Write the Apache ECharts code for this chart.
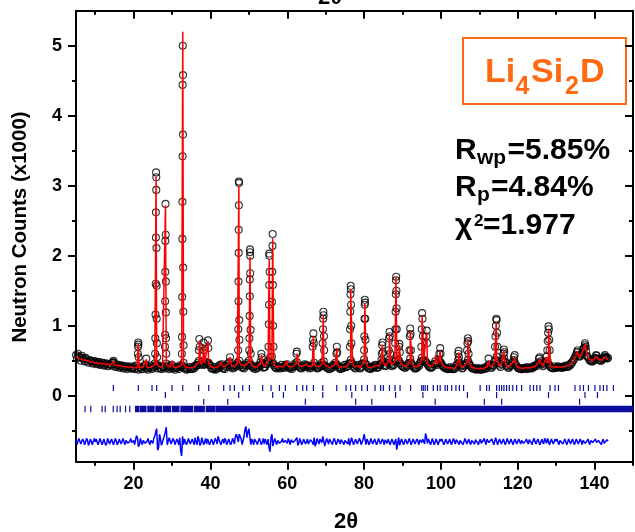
<!DOCTYPE html>
<html>
<head>
<meta charset="utf-8">
<script src="https://cdn.jsdelivr.net/npm/echarts@6/dist/echarts.min.js"></script>
<style>
  html, body { margin: 0; padding: 0; background: #fff; }
  #chart { width: 635px; height: 532px; }
</style>
</head>
<body>
<div id="chart"></div>
<script>
// 2theta grid for the background parts of the pattern
const tthStart = 5;
const tthStep = 0.5;

// calculated profile between the strong peaks (x1000 counts), 5.0 .. 143.5
const calcBg = [
  0.55,0.54,0.53,0.52,0.51,0.50,0.50,0.49,0.48,0.48,
  0.47,0.47,0.46,0.46,0.46,0.45,0.45,0.44,0.44,0.45,
  0.44,0.43,0.43,0.42,0.42,0.42,0.41,0.41,0.41,0.41,
  0.40,0.41,0.40,0.40,0.40,0.41,0.42,0.40,0.40,0.41,
  0.42,0.44,0.45,0.42,0.41,0.41,0.42,0.44,0.42,0.41,
  0.42,0.40,0.40,0.41,0.42,0.44,0.45,0.41,0.40,0.40,
  0.40,0.40,0.41,0.45,0.48,0.45,0.48,0.46,0.47,0.48,
  0.42,0.40,0.40,0.40,0.41,0.42,0.44,0.41,0.42,0.45,
  0.46,0.42,0.41,0.43,0.46,0.48,0.44,0.42,0.43,0.45,
  0.48,0.47,0.42,0.41,0.41,0.42,0.46,0.47,0.42,0.44,
  0.48,0.52,0.55,0.45,0.41,0.41,0.42,0.43,0.41,0.43,
  0.44,0.41,0.40,0.42,0.44,0.47,0.43,0.41,0.42,0.44,
  0.45,0.42,0.41,0.42,0.45,0.42,0.41,0.42,0.45,0.48,
  0.43,0.41,0.40,0.41,0.43,0.46,0.45,0.41,0.40,0.41,
  0.43,0.42,0.45,0.50,0.46,0.41,0.42,0.43,0.40,0.45,
  0.50,0.46,0.41,0.40,0.40,0.42,0.43,0.41,0.43,0.50,
  0.48,0.43,0.46,0.50,0.44,0.43,0.48,0.55,0.50,0.47,
  0.43,0.41,0.42,0.45,0.52,0.45,0.41,0.40,0.42,0.45,
  0.52,0.50,0.50,0.46,0.42,0.41,0.44,0.48,0.45,0.50,
  0.48,0.43,0.41,0.40,0.39,0.40,0.40,0.39,0.42,0.50,
  0.45,0.40,0.42,0.45,0.50,0.45,0.41,0.40,0.39,0.39,
  0.39,0.38,0.39,0.40,0.41,0.44,0.41,0.42,0.48,0.55,
  0.45,0.42,0.50,0.52,0.44,0.41,0.42,0.46,0.50,0.45,
  0.41,0.40,0.39,0.39,0.40,0.40,0.40,0.41,0.41,0.42,
  0.44,0.46,0.48,0.43,0.45,0.55,0.46,0.42,0.41,0.41,
  0.41,0.41,0.42,0.41,0.41,0.42,0.42,0.44,0.46,0.50,
  0.56,0.60,0.55,0.58,0.65,0.70,0.58,0.52,0.50,0.50,
  0.52,0.56,0.52,0.50,0.51,0.55,0.54,0.52
];

// observed counts on the grid points (5.0 .. 143.5)
const obsBg = [
  0.58,0.60,0.55,0.57,0.52,0.54,0.49,0.51,0.50,0.47,
  0.49,0.46,0.48,0.45,0.47,0.44,0.46,0.43,0.45,0.47,
  0.45,0.42,0.44,0.41,0.43,0.40,0.42,0.40,0.42,0.39,
  0.41,0.43,0.39,0.41,0.38,0.42,0.44,0.39,0.41,0.43,
  0.40,0.46,0.44,0.43,0.39,0.42,0.41,0.46,0.40,0.42,
  0.44,0.39,0.41,0.40,0.43,0.42,0.47,0.40,0.38,0.41,
  0.39,0.41,0.43,0.44,0.50,0.46,0.49,0.45,0.48,0.47,
  0.43,0.39,0.41,0.38,0.42,0.44,0.45,0.40,0.43,0.46,
  0.48,0.41,0.42,0.44,0.47,0.50,0.43,0.41,0.44,0.47,
  0.50,0.45,0.41,0.42,0.40,0.43,0.48,0.46,0.41,0.45,
  0.50,0.54,0.56,0.44,0.40,0.42,0.41,0.44,0.40,0.44,
  0.45,0.40,0.41,0.41,0.46,0.48,0.42,0.40,0.43,0.45,
  0.44,0.41,0.42,0.43,0.47,0.41,0.40,0.43,0.47,0.49,
  0.42,0.40,0.38,0.42,0.44,0.47,0.44,0.40,0.39,0.42,
  0.44,0.41,0.46,0.51,0.45,0.40,0.43,0.44,0.39,0.46,
  0.52,0.45,0.40,0.39,0.41,0.43,0.44,0.40,0.44,0.51,
  0.49,0.42,0.47,0.51,0.43,0.44,0.49,0.57,0.51,0.46,
  0.42,0.40,0.43,0.46,0.53,0.44,0.40,0.39,0.43,0.46,
  0.54,0.51,0.49,0.45,0.41,0.40,0.45,0.49,0.44,0.51,
  0.47,0.42,0.40,0.39,0.38,0.41,0.39,0.38,0.43,0.51,
  0.44,0.39,0.43,0.46,0.51,0.44,0.40,0.39,0.38,0.40,
  0.38,0.37,0.40,0.39,0.42,0.45,0.40,0.43,0.49,0.56,
  0.46,0.41,0.51,0.53,0.43,0.40,0.43,0.47,0.51,0.44,
  0.40,0.39,0.38,0.40,0.39,0.41,0.39,0.40,0.42,0.43,
  0.45,0.47,0.49,0.42,0.46,0.56,0.45,0.41,0.40,0.42,
  0.40,0.42,0.41,0.40,0.42,0.43,0.41,0.45,0.47,0.51,
  0.57,0.62,0.56,0.59,0.66,0.72,0.57,0.53,0.51,0.49,
  0.53,0.57,0.51,0.50,0.52,0.56,0.55,0.54
];

// observed counts half way between grid points (5.25 .. 143.25)
const obsMid = [
  0.53,0.56,0.50,0.54,0.49,0.52,0.47,0.50,0.46,0.49,
  0.45,0.48,0.44,0.47,0.43,0.46,0.42,0.45,0.43,0.48,
  0.41,0.44,0.40,0.43,0.39,0.42,0.38,0.41,0.39,0.40,
  0.38,0.42,0.37,0.40,0.38,0.41,0.39,0.37,0.40,0.38,
  0.41,0.43,0.39,0.40,0.38,0.41,0.39,0.43,0.38,0.40,
  0.39,0.37,0.40,0.38,0.41,0.43,0.39,0.37,0.39,0.38,
  0.38,0.39,0.42,0.47,0.44,0.46,0.44,0.45,0.46,0.44,
  0.39,0.38,0.37,0.39,0.40,0.42,0.39,0.38,0.41,0.43,
  0.43,0.39,0.40,0.42,0.45,0.44,0.40,0.39,0.42,0.45,
  0.44,0.42,0.39,0.38,0.40,0.43,0.44,0.40,0.41,0.45,
  0.48,0.50,0.47,0.41,0.39,0.40,0.39,0.41,0.40,0.42,
  0.41,0.39,0.38,0.42,0.44,0.43,0.40,0.39,0.41,0.42,
  0.42,0.39,0.40,0.42,0.43,0.39,0.40,0.42,0.44,0.43,
  0.40,0.38,0.39,0.40,0.43,0.44,0.41,0.38,0.39,0.40,
  0.41,0.42,0.46,0.47,0.42,0.39,0.41,0.40,0.41,0.46,
  0.46,0.42,0.39,0.38,0.40,0.41,0.40,0.41,0.45,0.47,
  0.44,0.43,0.47,0.46,0.42,0.44,0.50,0.51,0.47,0.43,
  0.41,0.40,0.42,0.47,0.47,0.42,0.39,0.40,0.42,0.49,
  0.50,0.48,0.47,0.43,0.40,0.41,0.45,0.46,0.46,0.48,
  0.44,0.41,0.39,0.38,0.39,0.38,0.38,0.40,0.45,0.47,
  0.42,0.40,0.43,0.47,0.47,0.42,0.39,0.38,0.37,0.38,
  0.37,0.38,0.38,0.39,0.42,0.42,0.40,0.44,0.51,0.50,
  0.43,0.45,0.50,0.48,0.42,0.40,0.43,0.48,0.47,0.42,
  0.39,0.38,0.38,0.39,0.38,0.39,0.40,0.39,0.41,0.42,
  0.45,0.46,0.45,0.43,0.49,0.50,0.43,0.40,0.39,0.40,
  0.40,0.41,0.40,0.40,0.41,0.41,0.42,0.44,0.48,0.53,
  0.58,0.57,0.56,0.61,0.68,0.64,0.55,0.50,0.49,0.51,
  0.54,0.53,0.51,0.50,0.53,0.54,0.53
];

// difference curve on the grid points (5.0 .. 143.5)
const diffVals = [
  -0.64,-0.68,-0.63,-0.67,-0.65,-0.69,-0.64,-0.67,-0.63,-0.68,
  -0.66,-0.64,-0.69,-0.65,-0.67,-0.63,-0.68,-0.65,-0.67,-0.62,
  -0.68,-0.65,-0.67,-0.64,-0.69,-0.66,-0.64,-0.68,-0.65,-0.67,
  -0.64,-0.69,-0.60,-0.70,-0.66,-0.64,-0.68,-0.65,-0.67,-0.64,
  -0.68,-0.58,-0.47,-0.74,-0.62,-0.69,-0.60,-0.45,-0.72,-0.64,
  -0.67,-0.64,-0.69,-0.65,-0.60,-0.86,-0.70,-0.64,-0.67,-0.65,
  -0.68,-0.64,-0.60,-0.70,-0.63,-0.68,-0.62,-0.66,-0.69,-0.64,
  -0.67,-0.65,-0.68,-0.64,-0.58,-0.67,-0.65,-0.68,-0.64,-0.66,
  -0.62,-0.67,-0.64,-0.58,-0.60,-0.55,-0.62,-0.68,-0.48,-0.60,
  -0.47,-0.70,-0.65,-0.62,-0.67,-0.64,-0.60,-0.66,-0.69,-0.64,
  -0.62,-0.80,-0.55,-0.70,-0.66,-0.64,-0.68,-0.65,-0.67,-0.64,
  -0.68,-0.65,-0.63,-0.67,-0.64,-0.60,-0.68,-0.65,-0.67,-0.64,
  -0.66,-0.69,-0.63,-0.66,-0.60,-0.69,-0.65,-0.62,-0.67,-0.59,
  -0.70,-0.65,-0.62,-0.67,-0.64,-0.61,-0.68,-0.65,-0.63,-0.67,
  -0.64,-0.66,-0.61,-0.70,-0.65,-0.67,-0.63,-0.68,-0.64,-0.66,
  -0.55,-0.70,-0.65,-0.67,-0.63,-0.68,-0.64,-0.66,-0.62,-0.67,
  -0.65,-0.63,-0.68,-0.61,-0.66,-0.64,-0.69,-0.77,-0.60,-0.66,
  -0.64,-0.67,-0.63,-0.68,-0.62,-0.66,-0.64,-0.68,-0.65,-0.63,
  -0.67,-0.64,-0.54,-0.68,-0.65,-0.67,-0.63,-0.66,-0.64,-0.68,
  -0.65,-0.63,-0.67,-0.64,-0.66,-0.62,-0.68,-0.65,-0.63,-0.67,
  -0.64,-0.66,-0.68,-0.63,-0.65,-0.67,-0.64,-0.66,-0.63,-0.67,
  -0.65,-0.68,-0.64,-0.66,-0.62,-0.67,-0.65,-0.63,-0.68,-0.61,
  -0.66,-0.64,-0.67,-0.63,-0.66,-0.65,-0.68,-0.64,-0.66,-0.63,
  -0.67,-0.65,-0.64,-0.68,-0.65,-0.66,-0.63,-0.67,-0.64,-0.66,
  -0.65,-0.63,-0.67,-0.66,-0.61,-0.68,-0.65,-0.66,-0.64,-0.67,
  -0.65,-0.67,-0.64,-0.66,-0.68,-0.64,-0.66,-0.65,-0.67,-0.64,
  -0.66,-0.63,-0.67,-0.65,-0.64,-0.68,-0.65,-0.66,-0.64,-0.67,
  -0.65,-0.67,-0.64,-0.66,-0.65,-0.68,-0.66,-0.65
];

// difference curve half way between grid points (5.25 .. 143.25)
const diffMid = [
  -0.70,-0.61,-0.69,-0.62,-0.70,-0.61,-0.71,-0.62,-0.70,-0.61,
  -0.62,-0.70,-0.61,-0.70,-0.62,-0.71,-0.61,-0.69,-0.62,-0.70,
  -0.61,-0.70,-0.62,-0.69,-0.61,-0.70,-0.62,-0.70,-0.61,-0.69,
  -0.70,-0.57,-0.73,-0.61,-0.70,-0.62,-0.69,-0.61,-0.70,-0.62,
  -0.61,-0.52,-0.78,-0.55,-0.71,-0.62,-0.52,-0.70,-0.60,-0.69,
  -0.61,-0.70,-0.62,-0.70,-0.78,-0.58,-0.62,-0.70,-0.61,-0.69,
  -0.62,-0.70,-0.66,-0.58,-0.71,-0.60,-0.70,-0.61,-0.62,-0.70,
  -0.62,-0.70,-0.61,-0.69,-0.63,-0.70,-0.62,-0.61,-0.70,-0.62,
  -0.70,-0.61,-0.69,-0.55,-0.66,-0.57,-0.70,-0.58,-0.44,-0.52,
  -0.58,-0.62,-0.70,-0.60,-0.70,-0.61,-0.70,-0.61,-0.62,-0.70,
  -0.74,-0.60,-0.72,-0.61,-0.70,-0.62,-0.70,-0.61,-0.69,-0.62,
  -0.61,-0.70,-0.62,-0.69,-0.62,-0.71,-0.61,-0.70,-0.62,-0.69,
  -0.62,-0.70,-0.61,-0.70,-0.72,-0.61,-0.69,-0.62,-0.58,-0.72,
  -0.61,-0.69,-0.62,-0.70,-0.61,-0.70,-0.62,-0.69,-0.61,-0.70,
  -0.62,-0.69,-0.71,-0.60,-0.70,-0.62,-0.69,-0.61,-0.70,-0.62,
  -0.63,-0.62,-0.70,-0.61,-0.69,-0.62,-0.70,-0.61,-0.69,-0.62,
  -0.70,-0.61,-0.62,-0.70,-0.62,-0.70,-0.62,-0.68,-0.71,-0.62,
  -0.70,-0.62,-0.69,-0.61,-0.70,-0.62,-0.69,-0.62,-0.70,-0.61,
  -0.62,-0.69,-0.60,-0.62,-0.70,-0.61,-0.70,-0.62,-0.70,-0.62,
  -0.62,-0.70,-0.62,-0.69,-0.62,-0.70,-0.61,-0.69,-0.62,-0.70,
  -0.62,-0.70,-0.61,-0.69,-0.62,-0.70,-0.62,-0.69,-0.62,-0.70,
  -0.62,-0.70,-0.61,-0.70,-0.62,-0.69,-0.62,-0.70,-0.60,-0.70,
  -0.62,-0.69,-0.62,-0.70,-0.61,-0.69,-0.62,-0.70,-0.62,-0.69,
  -0.62,-0.69,-0.62,-0.70,-0.62,-0.69,-0.62,-0.70,-0.61,-0.69,
  -0.62,-0.70,-0.62,-0.69,-0.63,-0.61,-0.70,-0.62,-0.69,-0.62,
  -0.62,-0.70,-0.62,-0.69,-0.62,-0.70,-0.62,-0.69,-0.62,-0.70,
  -0.62,-0.69,-0.62,-0.70,-0.62,-0.69,-0.62,-0.70,-0.62,-0.69,
  -0.62,-0.69,-0.62,-0.70,-0.62,-0.69,-0.63
];

// calculated peak tops [2theta, counts]
const calcPeaks = [
  [14.7,0.49],[21.2,0.74],[23.3,0.52],[25.85,3.13],[28.3,2.72],[30.1,0.50],
  [32.8,5.20],[37.1,0.79],[38.25,0.74],[39.4,0.78],[42.8,0.48],[45.1,0.55],
  [47.4,3.00],[50.3,1.98],[53.3,0.58],[55.3,1.95],[56.2,2.25],[59.9,0.50],
  [62.5,0.60],[66.8,0.85],[69.4,1.15],[72.9,0.68],[76.5,1.52],[80.2,1.32],
  [84.75,0.73],[86.6,0.88],[88.3,1.70],[89.2,0.72],[92.0,0.93],[95.1,1.15],
  [96.3,0.90],[98.6,0.58],[99.8,0.65],[104.6,0.62],[107.0,0.80],[112.4,0.50],
  [114.4,1.06],[116.4,0.64],[119.1,0.55],[125.6,0.52],[128.0,0.95],
  [135.5,0.64],[137.6,0.74],[140.5,0.56],[142.8,0.56]
];

// observed points on the peak flanks [2theta, counts]
const obsPeaks = [
  [14.6,0.47],[14.75,0.50],
  [21.1,0.60],[21.15,0.70],[21.2,0.76],[21.25,0.73],[21.3,0.55],
  [23.3,0.53],
  [25.6,0.60],[25.65,0.82],[25.7,1.16],[25.75,1.60],[25.8,2.26],[25.8,2.62],[25.85,3.19],
  [25.9,3.12],[25.9,2.94],[25.95,2.11],[26.0,1.57],[26.0,1.10],[26.05,0.75],[26.1,0.55],
  [28.15,0.70],[28.2,0.87],[28.2,1.35],[28.25,1.77],[28.25,2.21],[28.3,2.74],
  [28.35,2.30],[28.4,1.63],[28.4,1.19],[28.45,0.82],[28.5,0.60],
  [32.55,0.60],[32.6,0.84],[32.65,1.41],[32.7,2.24],[32.7,2.77],[32.75,3.42],[32.75,4.44],
  [32.8,5.00],[32.85,4.58],[32.85,3.73],[32.9,1.83],[32.95,1.20],[33.0,0.72],
  [37.0,0.65],[37.1,0.81],[37.2,0.70],[38.2,0.76],[38.3,0.65],[39.35,0.79],[39.45,0.68],
  [45.1,0.55],
  [47.2,0.65],[47.25,0.95],[47.3,1.35],[47.3,1.63],[47.35,2.04],[47.35,2.37],
  [47.4,2.72],[47.4,3.06],[47.45,3.04],[47.5,1.08],[47.55,0.80],
  [50.1,0.65],[50.15,0.82],[50.2,1.14],[50.25,1.42],[50.25,1.66],[50.3,2.09],
  [50.3,2.05],[50.35,2.00],[50.35,1.75],[50.45,0.94],[50.5,0.60],
  [53.25,0.60],[53.35,0.55],
  [55.1,0.70],[55.2,1.02],[55.25,1.30],[55.3,1.58],[55.3,2.03],[55.35,2.00],[55.4,1.77],
  [56.0,1.34],[56.1,1.77],[56.15,2.14],[56.2,2.31],[56.25,1.58],[56.3,1.00],[56.4,0.70],
  [62.4,0.60],[62.5,0.63],
  [66.6,0.70],[66.7,0.80],[66.8,0.89],[66.9,0.75],
  [69.2,0.75],[69.3,0.95],[69.35,1.10],[69.4,1.20],[69.45,1.15],[69.55,0.85],[69.6,0.65],
  [72.8,0.60],[72.9,0.70],[73.0,0.62],
  [76.3,0.70],[76.35,0.95],[76.4,1.20],[76.45,1.45],[76.5,1.57],[76.55,1.52],[76.6,1.30],[76.65,1.00],[76.7,0.75],
  [80.0,0.65],[80.05,0.85],[80.1,1.10],[80.15,1.30],[80.2,1.37],[80.25,1.33],[80.3,1.10],[80.35,0.80],
  [84.6,0.60],[84.7,0.72],[84.8,0.76],[84.9,0.62],
  [86.4,0.65],[86.5,0.82],[86.6,0.91],[86.7,0.85],[86.8,0.60],
  [88.1,0.75],[88.15,0.95],[88.2,1.20],[88.25,1.45],[88.3,1.65],[88.35,1.70],[88.4,1.50],[88.45,1.25],[88.5,0.95],
  [89.1,0.70],[89.2,0.74],[89.3,0.62],
  [91.8,0.65],[91.9,0.85],[92.0,0.96],[92.1,0.88],[92.2,0.65],
  [94.9,0.70],[95.0,0.95],[95.1,1.18],[95.2,1.10],[95.3,0.85],
  [96.2,0.85],[96.3,0.93],[96.4,0.75],
  [99.6,0.60],[99.8,0.68],[99.9,0.60],
  [104.5,0.60],[104.6,0.64],[104.7,0.55],
  [106.8,0.65],[106.9,0.75],[107.0,0.82],[107.1,0.78],[107.2,0.60],
  [112.4,0.53],
  [114.1,0.70],[114.2,0.85],[114.3,1.00],[114.4,1.10],[114.5,1.08],[114.6,0.90],[114.7,0.70],
  [116.3,0.60],[116.4,0.66],[116.5,0.62],
  [119.0,0.55],[119.2,0.58],
  [125.5,0.53],[125.7,0.55],
  [127.7,0.65],[127.8,0.78],[127.9,0.90],[128.0,0.99],[128.1,0.95],[128.2,0.80],[128.3,0.65],
  [135.4,0.62],[135.6,0.65],
  [137.3,0.68],[137.5,0.75],[137.7,0.70],
  [140.4,0.58],[142.7,0.58],[143.0,0.55]
];

// Bragg reflection markers, one list per phase (2theta)
const braggRow1 = [
  14.72,21.23,24.79,26.0,30.0,32.78,36.94,39.55,43.45,45.1,46.23,48.4,50.14,53.6,
  55.78,57.95,59.5,62.47,64.03,65.07,66.8,69.24,72.88,75.3,76.5,77.8,79.4,80.85,
  82.85,84.3,85.0,86.6,88.06,89.36,92.1,95.0,95.4,95.9,96.5,98.0,99.1,99.8,101.1,
  101.7,102.8,103.9,104.8,105.9,110.2,111.9,112.6,114.5,115.2,115.8,116.4,117.1,
  117.8,118.7,119.7,121.0,123.2,124.1,124.95,125.8,128.4,129.7,130.6,134.9,136.2,
  137.1,138.4,140.1,141.4,142.3,143.2,144.9
];
const braggRow2 = [28.26,47.36,56.2,59.0,69.24,76.8,88.2,95.3,106.9,114.5,128.0,137.5,140.75];
const braggRow3 = [38.25,44.5,64.7,77.8,82.0,98.5,111.3,115.8,136.1];
const braggRow4 = [7.35,8.85,11.8,12.6,14.7,15.7,16.5,17.9,19.0];
const braggRow4Bands = [
  [20.5,21.4],[21.8,23.2],[23.7,25.3],[25.8,27.3],[27.8,29.6],[30.1,31.8],
  [32.3,35.3],[35.8,38.4],[38.9,41.2],[41.6,150]
];
const braggLevels = [0.11, 0.01, -0.086, -0.19];

// axis ticks
const xMajor = [20, 40, 60, 80, 100, 120, 140];
const xMinor = [10, 30, 50, 70, 90, 110, 130, 150];
const yMajor = [0, 1, 2, 3, 4, 5];
const yMinor = [-0.5, 0.5, 1.5, 2.5, 3.5, 4.5];

const FONT = "'Liberation Sans', Arial, Helvetica, sans-serif";
const ORANGE = '#ff6a10';

const gridX = i => tthStart + i * tthStep;
const midX = i => tthStart + tthStep / 2 + i * tthStep;
const byX = (a, b) => a[0] - b[0];
const obsData = obsBg.map((v, i) => [gridX(i), v])
  .concat(obsMid.map((v, i) => [midX(i), v]))
  .concat(obsPeaks);
const calcData = calcBg.map((v, i) => [gridX(i), v]).concat(calcPeaks).sort(byX);
const diffData = diffVals.map((v, i) => [gridX(i), v])
  .concat(diffMid.map((v, i) => [midX(i), v])).sort(byX);
const braggData = []
  .concat(braggRow1.map(t => [t, t, braggLevels[0]]))
  .concat(braggRow2.map(t => [t, t, braggLevels[1]]))
  .concat(braggRow3.map(t => [t, t, braggLevels[2]]))
  .concat(braggRow4.map(t => [t, t, braggLevels[3]]))
  .concat(braggRow4Bands.map(b => [b[0], b[1], braggLevels[3]]));

const chart = echarts.init(document.getElementById('chart'));

function xAxisDef(position, ticks, len, withLine, withLabel) {
  return {
    type: 'value', min: 5, max: 150, position,
    axisLine: { show: withLine, onZero: false, lineStyle: { color: '#000', width: 2 } },
    axisTick: { show: true, inside: position === 'top', customValues: ticks, length: len,
      lineStyle: { color: '#000', width: 2 } },
    axisLabel: { show: withLabel, customValues: ticks, margin: 13, color: '#000',
      fontSize: 18, fontWeight: 'bold', fontFamily: FONT },
    splitLine: { show: false }
  };
}
function yAxisDef(position, ticks, len, withLine, withLabel) {
  return {
    type: 'value', min: -0.943, max: 5.5, position,
    axisLine: { show: withLine, onZero: false, lineStyle: { color: '#000', width: 2 } },
    axisTick: { show: true, inside: position === 'right', customValues: ticks, length: len,
      lineStyle: { color: '#000', width: 2 } },
    axisLabel: { show: withLabel, customValues: ticks, margin: 14, color: '#000',
      fontSize: 18, fontWeight: 'bold', fontFamily: FONT },
    splitLine: { show: false }
  };
}

function txt(text, x, y, size, color, align, rotation) {
  return {
    type: 'text', x, y, silent: true, rotation: rotation || 0,
    style: { text, fill: color || '#000', font: 'bold ' + size + 'px ' + FONT,
      textAlign: align || 'left', textVerticalAlign: 'middle' }
  };
}

chart.setOption({
  animation: false,
  backgroundColor: '#fff',
  grid: { left: 76, right: 2, top: 10.7, bottom: 70.3, outerBoundsMode: 'none' },
  xAxis: [
    xAxisDef('bottom', xMajor, 8, true, true),
    xAxisDef('bottom', xMinor, 4, false, false),
    xAxisDef('top', xMajor, 8, true, false),
    xAxisDef('top', xMinor, 4, false, false)
  ],
  yAxis: [
    yAxisDef('left', yMajor, 8, true, true),
    yAxisDef('left', yMinor, 4, false, false),
    yAxisDef('right', yMajor, 8, true, false),
    yAxisDef('right', yMinor, 4, false, false)
  ],
  series: [
    {
      name: 'observed', type: 'scatter', data: obsData, z: 2,
      symbol: 'circle', symbolSize: 7, silent: true,
      itemStyle: { color: 'rgba(0,0,0,0)', borderColor: '#000', borderWidth: 1.1 }
    },
    {
      name: 'calculated', type: 'line', data: calcData, z: 3,
      showSymbol: false, silent: true,
      lineStyle: { color: '#ff0000', width: 1.5 }
    },
    {
      name: 'difference', type: 'line', data: diffData, z: 3,
      showSymbol: false, silent: true,
      lineStyle: { color: '#0000ff', width: 1.5 }
    },
    {
      name: 'bragg', type: 'custom', data: braggData, z: 2, silent: true,
      encode: { x: [0, 1], y: 2 },
      renderItem(params, api) {
        const a = api.coord([api.value(0), api.value(2)]);
        const b = api.coord([api.value(1), api.value(2)]);
        const h = api.value(2) < -0.15 ? 6.5 : 6;
        return {
          type: 'rect',
          shape: { x: a[0] - 0.6, y: a[1] - h / 2, width: b[0] - a[0] + 1.2, height: h },
          style: { fill: '#0c0c9e' }
        };
      }
    }
  ],
  graphic: [
    txt('Neutron Counts (x1000)', 20, 227, 20.5, '#000', 'center', Math.PI / 2),
    txt('2θ', 346, 522, 22, '#000', 'center'),
    txt('2θ', 330, -2, 22, '#000', 'center'),
    { type: 'rect', silent: true, shape: { x: 463, y: 38, width: 163, height: 66 },
      style: { fill: '#fff', stroke: ORANGE, lineWidth: 2 } },
    txt('Li', 485, 73, 34, ORANGE),
    txt('4', 515.5, 87.5, 25, ORANGE),
    txt('Si', 531, 73, 34, ORANGE),
    txt('2', 565, 87.5, 25, ORANGE),
    txt('D', 580, 73, 34, ORANGE),
    txt('R', 455, 151, 30),
    txt('wp', 477, 158.7, 21),
    txt('=5.85%', 507.5, 151, 30),
    txt('R', 455, 188, 30),
    txt('p', 477, 195.7, 21),
    txt('=4.84%', 491, 188, 30),
    txt('χ', 455, 226, 30),
    txt('2', 474, 221.6, 17),
    txt('=1.977', 483, 226, 30)
  ]
});
</script>
</body>
</html>
